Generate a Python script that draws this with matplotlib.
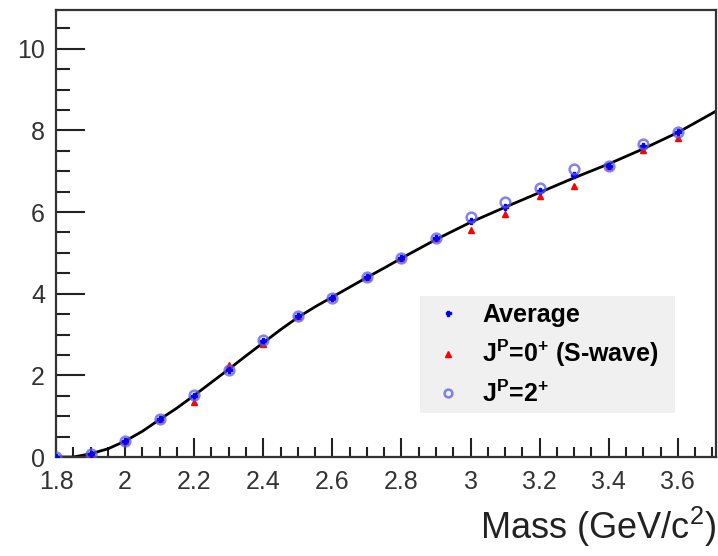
import matplotlib
matplotlib.use("Agg")
import matplotlib.pyplot as plt
from matplotlib.patches import Rectangle
from matplotlib.ticker import MultipleLocator, FixedLocator

plt.rcParams["font.family"] = ["Liberation Sans", "DejaVu Sans"]
plt.rcParams["mathtext.fontset"] = "custom"
plt.rcParams["mathtext.rm"] = "Liberation Sans"
plt.rcParams["mathtext.bf"] = "Liberation Sans:bold"
plt.rcParams["mathtext.default"] = "rm"

# ---------- data ----------
mass = [1.8, 1.9, 2.0, 2.1, 2.2, 2.3, 2.4, 2.5, 2.6, 2.7,
        2.8, 2.9, 3.0, 3.1, 3.2, 3.3, 3.4, 3.5, 3.6]
average = [0.00, 0.08, 0.39, 0.92, 1.49, 2.12, 2.83, 3.45, 3.90, 4.41,
           4.88, 5.36, 5.77, 6.12, 6.51, 6.90, 7.14, 7.62, 7.95]
s_wave = [0.00, 0.08, 0.39, 0.92, 1.35, 2.25, 2.78, 3.45, 3.92, 4.41,
          4.88, 5.36, 5.57, 5.96, 6.39, 6.65, 7.14, 7.53, 7.82]
d_wave = [0.00, 0.08, 0.39, 0.92, 1.51, 2.12, 2.87, 3.45, 3.90, 4.41,
          4.88, 5.36, 5.89, 6.25, 6.59, 7.05, 7.14, 7.67, 7.97]

# smooth fit curve
fit_x = [1.80, 1.85, 1.90, 1.95, 2.00, 2.05, 2.10, 2.15, 2.20, 2.25,
         2.30, 2.35, 2.40, 2.45, 2.50, 2.55, 2.60, 2.65, 2.70, 2.75,
         2.80, 2.85, 2.90, 2.95, 3.00, 3.10, 3.20, 3.30, 3.40, 3.50,
         3.60, 3.71]
fit_y = [0.00, 0.00, 0.08, 0.20, 0.39, 0.63, 0.92, 1.20, 1.51, 1.83,
         2.15, 2.48, 2.80, 3.12, 3.42, 3.68, 3.92, 4.16, 4.40, 4.63,
         4.87, 5.10, 5.33, 5.54, 5.75, 6.12, 6.48, 6.84, 7.18, 7.55,
         7.95, 8.47]

labels = ["Average",
          r"J$^{\mathbf{P}}$=0$^{\mathbf{+}}$ (S-wave)",
          r"J$^{\mathbf{P}}$=2$^{\mathbf{+}}$"]

# ---------- figure ----------
fig = plt.figure(figsize=(7.18, 5.56), dpi=100)
ax = fig.add_axes([0.078, 0.178, 0.919, 0.804])

ax.plot(fit_x, fit_y, color="black", lw=2.0, zorder=2)
h_avg, = ax.plot(mass, average, ls="none", marker="P", ms=4.5,
                 color="blue", zorder=4, label=labels[0])
h_s, = ax.plot(mass, s_wave, ls="none", marker="^", ms=5,
               color="red", zorder=3, label=labels[1])
h_d, = ax.plot(mass, d_wave, ls="none", marker="o", ms=7, mfc="none",
               mec=(0.35, 0.35, 0.9, 0.75), mew=1.8, zorder=5, label=labels[2])

ax.set_xlim(1.8, 3.71)
ax.set_ylim(0, 10.95)

ax.xaxis.set_major_locator(FixedLocator([1.8, 2.0, 2.2, 2.4, 2.6, 2.8, 3.0,
                                          3.2, 3.4, 3.6]))
ax.xaxis.set_minor_locator(MultipleLocator(0.05))
ax.yaxis.set_major_locator(MultipleLocator(2))
ax.yaxis.set_minor_locator(MultipleLocator(0.5))
ax.set_xticklabels(["1.8", "2", "2.2", "2.4", "2.6", "2.8", "3",
                    "3.2", "3.4", "3.6"])

ax.tick_params(axis="both", which="both", direction="in", colors="#222",
               labelcolor="#333", labelsize=18, width=1.5)
ax.tick_params(axis="x", which="major", length=14, pad=9)
ax.tick_params(axis="x", which="minor", length=7)
ax.tick_params(axis="y", which="major", length=21, pad=8)
ax.tick_params(axis="y", which="minor", length=10)

for sp in ax.spines.values():
    sp.set_linewidth(1.6)
    sp.set_color("#333")

ax.set_xlabel("Mass (GeV/c$^{2}$)", fontsize=26, color="#222",
              ha="right", x=1.0, labelpad=8)

# grey legend panel
ax.add_patch(Rectangle((0.5515, 0.0984), 0.386, 0.2617, transform=ax.transAxes,
                       facecolor="#f0f0f0", edgecolor="none", zorder=6))
leg = ax.legend(handles=[h_avg, h_s, h_d], loc="upper left",
                bbox_to_anchor=(0.572, 0.345), frameon=False,
                prop={"size": 18, "weight": "bold"}, labelspacing=0.45,
                handlelength=1.2, handletextpad=0.75, borderpad=0,
                borderaxespad=0, markerscale=0.8)
leg.set_zorder(7)

fig.savefig("out.png", dpi=100, facecolor="white")
